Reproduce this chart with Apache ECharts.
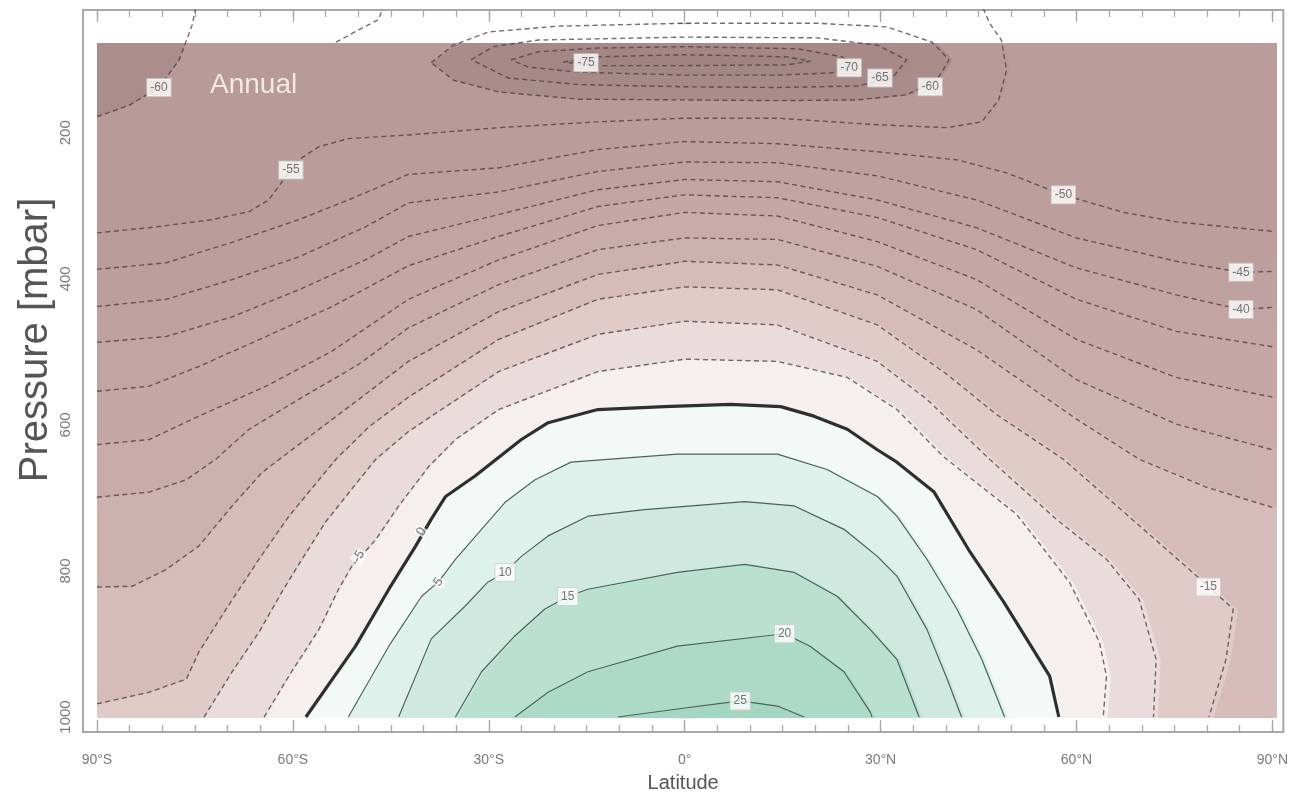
<!DOCTYPE html>
<html>
<head>
<meta charset="utf-8">
<script src="https://cdn.jsdelivr.net/npm/echarts@6.0.0/dist/echarts.min.js"></script>
<style>
  html, body { margin: 0; padding: 0; background: #fff; }
  #chart { width: 1291px; height: 798px; }
</style>
</head>
<body>
<div id="chart"></div>
<script>
// axis ticks
const latTicks = [-90, -60, -30, 0, 30, 60, 90];
const latLabels = ['90°S', '60°S', '30°S', '0°', '30°N', '60°N', '90°N'];
const pTicks = [200, 400, 600, 800, 1000];

// extent of the shaded field (lat, mbar)
const latExtent = [-90, 90];
const pExtent = [77, 1000];

// contour lines, [latitude, pressure]
const c25 = [[-10.2,1000],[-1.1,989],[8.5,978],[14.2,985],[18.3,1000]];
const c20 = [[-26.0,1000],[-20.9,966],[-14.8,938],[-1.1,903],[15.3,886],[19.2,903],[24.4,938],[28.4,993],[28.7,1000]];
const c15 = [[-35.1,1000],[-31.1,938],[-26.0,889],[-21.4,852],[-17.9,835],[-14.8,825],[-1.1,802],[9.2,791],[16.8,802],[23.4,835],[28.4,880],[32.5,921],[35.9,1000]];
const c10 = [[-43.8,1000],[-38.8,893],[-33.6,848],[-30.1,815],[-27.5,802],[-25.0,780],[-20.9,752],[-14.8,725],[-6.1,716],[9.2,705],[16.8,711],[24.4,743],[29.5,780],[32.5,807],[37.1,880],[40.2,948],[42.4,1000]];
const c5 = [[-51.5,1000],[-45.3,903],[-40.3,835],[-37.7,815],[-35.1,784],[-31.1,743],[-27.5,706],[-22.9,675],[-17.4,651],[-1.1,640],[14.2,640],[21.8,661],[29.5,698],[32.5,725],[37.1,784],[41.7,852],[45.5,921],[49.0,1000]];
const c0 = [[-58.0,1000],[-50.4,903],[-45.3,825],[-41.2,766],[-38.8,729],[-36.6,698],[-32.1,670],[-25.0,620],[-20.9,597],[-13.3,579],[-3.1,575],[7.0,572],[14.7,575],[19.8,588],[24.9,606],[29.5,634],[32.5,651],[38.2,692],[43.7,774],[48.9,843],[55.9,944],[57.3,1000]];
const cm5 = [[-64.4,1000],[-60.2,938],[-56.0,880],[-53.0,825],[-51.0,794],[-47.3,757],[-43.8,711],[-39.2,657],[-35.1,620],[-28.5,579],[-13.3,527],[0,510],[14.2,513],[24.9,535],[32.5,579],[39.7,644],[50.8,722],[58.9,815],[63.5,897],[64.6,944],[64.1,1000]];
const cm10 = [[-73.6,1000],[-69.3,938],[-65.2,884],[-61.7,829],[-58.6,784],[-55.0,733],[-51.0,688],[-47.3,647],[-42.3,609],[-28.5,527],[-13.3,476],[0,458],[14.2,463],[29.5,513],[37.1,565],[46.7,647],[56.9,729],[64.6,784],[69.6,839],[72.2,921],[71.8,1000]];
const cm15 = [[-90,982],[-82.0,966],[-76.3,948],[-74.4,911],[-70.2,852],[-65.2,784],[-60.6,725],[-56.0,675],[-53.4,647],[-48.4,603],[-42.3,562],[-28.5,483],[-13.3,428],[0,411],[14.2,415],[29.5,463],[40.2,531],[47.8,586],[58.0,647],[67.6,722],[77.3,798],[84.0,852],[82.9,921],[80.3,1000]];
const cm20 = [[-90,822],[-84.6,821],[-79.4,798],[-74.4,766],[-69.3,711],[-64.7,665],[-59.1,627],[-49.9,565],[-42.3,513],[-28.5,445],[-13.3,394],[0,376],[14.2,381],[29.5,422],[44.7,497],[60.0,592],[69.6,647],[79.8,685],[90,713]];
const cm25 = [[-90,699],[-82.0,692],[-76.3,675],[-71.8,647],[-66.7,606],[-59.1,565],[-49.9,517],[-42.3,467],[-28.5,408],[-13.3,360],[0,344],[14.2,346],[29.5,383],[44.7,442],[60.0,538],[75.3,599],[90,634]];
const cm30 = [[-90,627],[-82.0,620],[-74.4,588],[-64.1,547],[-54.0,499],[-42.3,428],[-28.5,374],[-13.3,327],[0,309],[14.2,314],[29.5,349],[44.7,401],[60.0,483],[75.3,535],[90,562]];
const cm35 = [[-90,554],[-82.0,547],[-74.4,520],[-64.1,479],[-54.0,438],[-42.3,382],[-28.5,342],[-13.3,301],[0,285],[14.2,289],[29.5,316],[44.7,360],[60.0,428],[75.3,472],[90,493]];
const cm40 = [[-90,487],[-79.4,479],[-69.3,452],[-59.1,415],[-48.9,374],[-42.3,342],[-28.5,312],[-13.3,278],[0,264],[14.2,267],[29.5,292],[44.7,330],[60.0,385],[75.3,422],[85.2,442],[90,439]];
const cm45 = [[-90,438],[-79.4,428],[-69.3,401],[-59.1,370],[-48.9,329],[-42.3,296],[-28.5,281],[-13.3,253],[0,240],[14.2,241],[29.5,259],[44.7,292],[60.0,344],[75.3,376],[85.2,391],[90,390]];
const cm50 = [[-90,387],[-79.4,378],[-69.3,350],[-59.1,319],[-51.5,292],[-42.3,257],[-28.5,248],[-13.3,223],[0,212],[14.2,215],[29.5,226],[41.7,237],[49.3,255],[58.0,285],[67.2,309],[75.3,322],[90,335]];
const cm55 = [[-90,337],[-82.0,330],[-72.4,319],[-66.7,308],[-63.7,292],[-61.4,264],[-59.1,237],[-56.0,219],[-51.5,208],[-42.3,203],[-28.5,193],[-13.3,185],[0,180],[14.2,180],[29.5,189],[40.2,193],[45.5,185],[48.1,155],[49.3,114],[48.5,73],[46.7,50],[45.5,25]];
const cm55b = [[-53.4,76],[-49.9,59],[-46.9,45],[-46.0,25]];
const cm60a = [[-90,178],[-85.0,162],[-80.5,138],[-77.4,100],[-75.4,52],[-74.8,25]];
const cm60 = [[-38.8,104],[-35.4,80],[-30.1,62],[-19.4,54],[0,50],[20.3,50],[31.0,55],[37.9,76],[40.5,100],[38.6,128],[34.0,148],[26.4,155],[14.2,156],[0,155],[-16.3,154],[-28.5,144],[-35.4,128],[-38.8,104]];
const cm65 = [[-32.7,100],[-29.3,82],[-22.4,73],[0,69],[20.3,70],[29.5,80],[34.0,100],[31.8,125],[26.4,136],[14.2,138],[0,137],[-16.3,134],[-27.0,125],[-32.7,100]];
const cm70 = [[-26.6,100],[-22.4,89],[-13.3,84],[0,82],[17.3,85],[24.1,96],[25.6,108],[22.6,118],[14.2,121],[0,121],[-16.3,117],[-24.0,110],[-26.6,100]];
const cm75 = [[-18.6,103],[-13.3,96],[0,93],[15.7,96],[19.2,102],[15.7,107],[0,108],[-13.3,108],[-18.6,103]];

// contour labels [lat, pressure, text]
const contourLabels = [
  [-80.5,138,'-60'], [-60.3,251,'-55'], [58.0,285,'-50'], [85.2,391,'-45'], [85.2,442,'-40'],
  [80.2,822,'-15'], [-49.9,780,'-5'], [-40.3,746,'0'], [-37.7,815,'5'], [-27.5,802,'10'],
  [-17.9,835,'15'], [15.3,886,'20'], [8.5,978,'25'], [-15.1,104,'-75'], [25.2,111,'-70'],
  [29.9,125,'-65'], [37.6,137,'-60']
];
const labelRotation = { '-5': 58, '0': 60, '5': 55 };

// band colours (warm side of each level)
const bandColor = {
  base: '#b89a98', cold60: '#ab8d8c',
  '-55': '#ba9c9a', '-50': '#bc9e9d', '-45': '#bfa1a0', '-40': '#c2a4a2', '-35': '#c5a7a5',
  '-30': '#c9abaa', '-25': '#cdb1af', '-20': '#d5bcba', '-15': '#e0cbc9', '-10': '#eadcdb',
  '-5': '#f5efee', '0': '#f3f9f7', '5': '#dff1eb', '10': '#cfe9e0', '15': '#bae1d0',
  '20': '#acdac6', '25': '#a5d6c0',
  ring60: '#aa8c8b', ring65: '#a78988', ring70: '#a48685', ring75: '#a18382'
};

const BL = [latExtent[0], pExtent[1]], BR = [latExtent[1], pExtent[1]];
const fills = [
  { pts: [[-90, 25], [90, 25], BR, BL], color: bandColor.base },
  { pts: cm60a.concat([[-90, 25]]), color: bandColor.cold60 },
  { pts: cm55.concat([[90, 25], BR, BL]), color: bandColor['-55'] },
  { pts: cm50.concat([BR, BL]), color: bandColor['-50'] },
  { pts: cm45.concat([BR, BL]), color: bandColor['-45'] },
  { pts: cm40.concat([BR, BL]), color: bandColor['-40'] },
  { pts: cm35.concat([BR, BL]), color: bandColor['-35'] },
  { pts: cm30.concat([BR, BL]), color: bandColor['-30'] },
  { pts: cm25.concat([BR, BL]), color: bandColor['-25'] },
  { pts: cm20.concat([BR, BL]), color: bandColor['-20'] },
  { pts: cm15.concat([BL]), color: bandColor['-15'] },
  { pts: cm10, color: bandColor['-10'] },
  { pts: cm5, color: bandColor['-5'] },
  { pts: c0, color: bandColor['0'] },
  { pts: c5, color: bandColor['5'] },
  { pts: c10, color: bandColor['10'] },
  { pts: c15, color: bandColor['15'] },
  { pts: c20, color: bandColor['20'] },
  { pts: c25, color: bandColor['25'] },
  { pts: cm60, color: bandColor.ring60 },
  { pts: cm65, color: bandColor.ring65 },
  { pts: cm70, color: bandColor.ring70 },
  { pts: cm75, color: bandColor.ring75 }
];

const contours = [
  [-75, cm75], [-70, cm70], [-65, cm65], [-60, cm60], [-60, cm60a], [-55, cm55], [-55, cm55b],
  [-50, cm50], [-45, cm45], [-40, cm40], [-35, cm35], [-30, cm30], [-25, cm25], [-20, cm20],
  [-15, cm15], [-10, cm10], [-5, cm5], [0, c0], [5, c5], [10, c10], [15, c15], [20, c20], [25, c25]
];

// layout: outer frame (A) and shaded field (B) share one scale
const gridA = { left: 83, top: 10, width: 1205, height: 723 };
const gridB = { left: 97, top: 43, width: 1180, height: 675 };
const kx = gridB.width / (latExtent[1] - latExtent[0]);
const ky = gridB.height / (pExtent[1] - pExtent[0]);
const latMinA = latExtent[0] - (gridB.left - gridA.left) / kx;
const latMaxA = latExtent[1] + (gridA.left + gridA.width - gridB.left - gridB.width) / kx;
const pMinA = pExtent[0] - (gridB.top - gridA.top) / ky;
const pMaxA = pExtent[1] + (gridA.top + gridA.height - gridB.top - gridB.height) / ky;

const latMinor = [];
for (let v = -90; v <= 90; v += 5) latMinor.push(v);
const pMinor = [];
for (let v = 50; v <= 1000; v += 50) pMinor.push(v);

const FONT = 'Liberation Sans';
const frameColor = '#a8a8a8';
const tickColor = '#7a7a7a';

function xAx(pos, vals, len, withLabels) {
  const ax = {
    type: 'value', gridIndex: 0, position: pos, min: latMinA, max: latMaxA,
    axisLine: { show: false }, splitLine: { show: false },
    axisTick: { show: true, inside: true, length: len, customValues: vals, lineStyle: { color: frameColor, width: 1.3 } },
    axisLabel: { show: false }
  };
  if (withLabels) {
    ax.axisLabel = {
      show: true, customValues: latTicks, margin: 21, fontSize: 14, color: tickColor, fontFamily: FONT,
      formatter: v => latLabels[latTicks.indexOf(Math.round(v))]
    };
    ax.name = 'Latitude';
    ax.nameLocation = 'middle';
    ax.nameGap = 41;
    ax.nameTextStyle = { fontSize: 20, color: '#555', fontFamily: FONT };
  }
  return ax;
}
function yAx(pos, vals, len, withLabels) {
  const ax = {
    type: 'value', gridIndex: 0, position: pos, inverse: true, min: pMinA, max: pMaxA,
    axisLine: { show: false }, splitLine: { show: false },
    axisTick: { show: true, inside: true, length: len, customValues: vals, lineStyle: { color: frameColor, width: 1.3 } },
    axisLabel: { show: false }
  };
  if (withLabels) {
    ax.axisLabel = {
      show: true, customValues: pTicks, rotate: 90, margin: 10, fontSize: 15, color: tickColor, fontFamily: FONT,
      formatter: v => String(Math.round(v))
    };
  }
  return ax;
}

const lineSeries = contours.map(([lev, pts]) => ({
  type: 'line', xAxisIndex: 0, yAxisIndex: 0, data: pts, symbol: 'none', silent: true, z: 3,
  lineStyle: lev < 0
    ? { type: [5, 3.5], width: 1.4, color: 'rgba(72,60,60,0.75)' }
    : (lev === 0 ? { width: 3.2, color: '#2f2f2f' } : { width: 1.2, color: '#4a625c' })
}));

const chart = echarts.init(document.getElementById('chart'));
chart.setOption({
  animation: false,
  backgroundColor: '#fff',
  title: {
    text: 'Annual', left: 205, top: 66,
    textStyle: { color: '#f2e8e7', fontSize: 28, fontWeight: 'normal', fontFamily: FONT }
  },
  grid: [
    Object.assign({ show: true, borderColor: frameColor, borderWidth: 2, backgroundColor: 'transparent' }, gridA),
    gridB
  ],
  xAxis: [
    xAx('bottom', latTicks, 12, true), xAx('bottom', latMinor, 7, false),
    xAx('top', latTicks, 12, false), xAx('top', latMinor, 7, false),
    { type: 'value', gridIndex: 1, min: latExtent[0], max: latExtent[1], show: false }
  ],
  yAxis: [
    yAx('left', pTicks, 12, true), yAx('left', pMinor, 7, false),
    yAx('right', pTicks, 12, false), yAx('right', pMinor, 7, false),
    { type: 'value', gridIndex: 1, inverse: true, min: pExtent[0], max: pExtent[1], show: false }
  ],
  graphic: [{
    type: 'text', x: 36, y: 340, rotation: Math.PI / 2, z: 10,
    style: { text: 'Pressure [mbar]', fontSize: 40, fontFamily: FONT, fill: '#555', align: 'center', verticalAlign: 'middle' }
  }],
  series: [
    {
      type: 'custom', xAxisIndex: 4, yAxisIndex: 4, clip: true, silent: true, z: 1,
      data: fills.map(f => f.pts[0]),
      renderItem: function (params, api) {
        const f = fills[params.dataIndex];
        return {
          type: 'polygon',
          shape: { points: f.pts.map(p => api.coord(p)) },
          style: { fill: f.color, stroke: f.color, lineWidth: 0.5 }
        };
      }
    }
  ].concat(lineSeries).concat([
    {
      type: 'scatter', xAxisIndex: 0, yAxisIndex: 0, symbolSize: 1, silent: true, z: 6,
      itemStyle: { color: 'rgba(0,0,0,0)' },
      data: contourLabels.map(l => ({
        value: [l[0], l[1]], name: l[2],
        label: labelRotation[l[2]] !== undefined
          ? { rotate: labelRotation[l[2]], borderWidth: 0, backgroundColor: 'rgba(255,255,255,0.9)', padding: [0, 1], fontSize: 13 }
          : {}
      })),
      label: {
        show: true, position: 'inside', formatter: '{b}', fontSize: 12, color: '#555', fontFamily: FONT,
        backgroundColor: '#ffffff', borderColor: '#d0d0d0', borderWidth: 1, padding: [3, 3, 2, 3]
      }
    }
  ])
});
</script>
</body>
</html>
